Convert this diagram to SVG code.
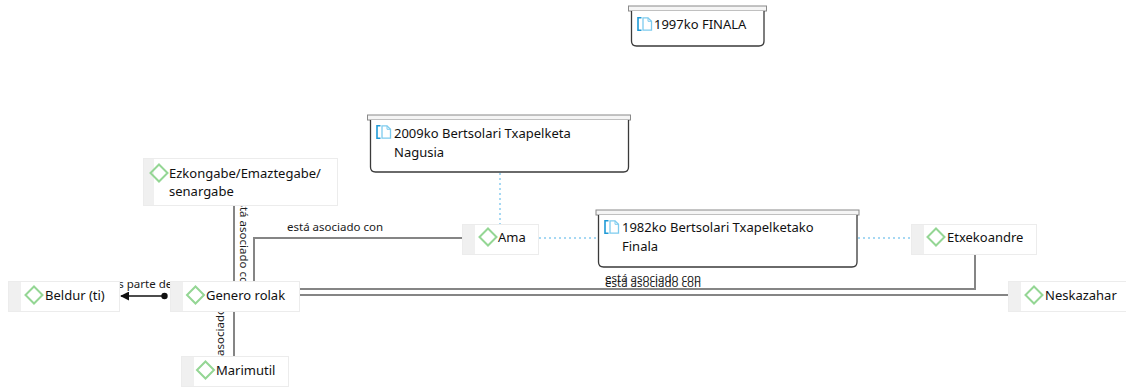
<svg xmlns="http://www.w3.org/2000/svg" width="1126" height="387" viewBox="0 0 1126 387">
<style>
.bg{fill:#ffffff}
.nrect{fill:#ffffff;stroke:#ececec;stroke-width:1}
.strip{fill:#f0f0f0}
.dia{fill:none;stroke:#94d694;stroke-width:2}
.ntxt{font-family:"Noto Sans","Open Sans",sans-serif;font-size:13px;fill:#111111}
.lbl{font-family:"Noto Sans","Open Sans",sans-serif;font-size:11.5px;fill:#1a1a1a}
.conn{fill:none;stroke:#858585;stroke-width:2}
.dot{fill:none;stroke:#a6d8f3;stroke-width:2;stroke-dasharray:2 3}
.docbar{fill:#f5f5f5;stroke:#8a8a8a;stroke-width:1}
.docbox{fill:#ffffff;stroke:#3a3a3a;stroke-width:1.3}
</style>
<defs>
<symbol id="docicon" viewBox="0 0 16 14" overflow="visible">
<path d="M4.5 0.8 H1 V13.2 H4.5" fill="none" stroke="#1f9ad6" stroke-width="1.6"/>
<path d="M6 0.8 H11 L14.5 4.3 V13.2 H6 Z" fill="none" stroke="#7dcbee" stroke-width="1.3"/>
<path d="M11 0.8 V4.3 H14.5" fill="none" stroke="#7dcbee" stroke-width="1"/>
</symbol>
<marker id="arrow" viewBox="0 0 10 10" refX="9" refY="5" markerWidth="9" markerHeight="9" markerUnits="userSpaceOnUse" orient="auto">
<path d="M0 0 L10 5 L0 10 Z" fill="#111111"/>
</marker>
</defs>
<rect class="bg" x="0" y="0" width="1126" height="387"/>

<g id="connectors">
<path class="dot" d="M500 173 V224"/>
<path class="dot" d="M539 238 H597"/>
<path class="dot" d="M858 238 H911"/>
<path class="conn" d="M462 238 H254 V281"/>
<path class="conn" d="M234 205 V281"/>
<path class="conn" d="M234 311 V356"/>
<path class="conn" d="M299 289 H975 V254"/>
<path class="conn" d="M299 295 H1008"/>
<path d="M164 296 H121" fill="none" stroke="#111111" stroke-width="1.6" marker-end="url(#arrow)"/>
<circle cx="164.5" cy="296" r="3.2" fill="#111111"/>
<text class="lbl" x="287" y="231">está asociado con</text>
<text class="lbl" transform="translate(239.5,243) rotate(90)" text-anchor="middle">está asociado con</text>
<text class="lbl" transform="translate(224,333.5) rotate(-90)" text-anchor="middle">está asociado con</text>
<text class="lbl" x="605" y="282">está asociado con</text>
<text class="lbl" x="605" y="286.5">está asociado con</text>
<text class="lbl" x="142" y="288" text-anchor="middle">es parte de</text>
</g>

<g id="doc1997">
<rect class="docbar" x="628.5" y="6" width="138" height="5"/>
<path class="docbox" d="M631.5 11 V41 Q631.5 46 636.5 46 H759 Q764 46 764 41 V11"/>
<use href="#docicon" x="637" y="17" width="16" height="14"/>
<text class="ntxt" x="654" y="29">1997ko FINALA</text>
</g>

<g id="doc2009">
<rect class="docbar" x="367.5" y="115" width="263" height="5"/>
<path class="docbox" d="M370.5 120 V167 Q370.5 172 375.5 172 H623.5 Q628.5 172 628.5 167 V120"/>
<use href="#docicon" x="376" y="125" width="16" height="14"/>
<text class="ntxt" x="394" y="138">2009ko Bertsolari Txapelketa</text>
<text class="ntxt" x="394" y="157">Nagusia</text>
</g>

<g id="doc1982">
<rect class="docbar" x="596" y="210" width="263" height="5"/>
<path class="docbox" d="M598.5 215 V262 Q598.5 267 603.5 267 H852 Q857 267 857 262 V215"/>
<use href="#docicon" x="604" y="220" width="16" height="14"/>
<text class="ntxt" x="622" y="232">1982ko Bertsolari Txapelketako</text>
<text class="ntxt" x="622" y="251">Finala</text>
</g>

<g id="ezkongabe">
<rect class="nrect" x="143.5" y="158.5" width="194" height="47"/>
<rect class="strip" x="144" y="159" width="10" height="46"/>
<path class="dia" d="M159 164.5 L167.5 173 L159 181.5 L150.5 173 Z"/>
<text class="ntxt" x="169" y="177.5">Ezkongabe/Emaztegabe/</text>
<text class="ntxt" x="169" y="195.5">senargabe</text>
</g>

<g id="ama">
<rect class="nrect" x="462.5" y="224.5" width="76" height="30"/>
<rect class="strip" x="463" y="225" width="12" height="29"/>
<path class="dia" d="M488 228.5 L496.5 237 L488 245.5 L479.5 237 Z"/>
<text class="ntxt" x="498" y="241.5">Ama</text>
</g>

<g id="etxekoandre">
<rect class="nrect" x="911.5" y="224.5" width="125" height="30"/>
<rect class="strip" x="912" y="225" width="12" height="29"/>
<path class="dia" d="M936 228.5 L944.5 237 L936 245.5 L927.5 237 Z"/>
<text class="ntxt" x="947" y="241.5">Etxekoandre</text>
</g>

<g id="neskazahar">
<rect class="nrect" x="1008.5" y="281.5" width="120" height="30"/>
<rect class="strip" x="1009" y="282" width="12" height="29"/>
<path class="dia" d="M1034 286.5 L1042.5 295 L1034 303.5 L1025.5 295 Z"/>
<text class="ntxt" x="1045" y="299.5">Neskazahar</text>
</g>

<g id="genero">
<rect class="nrect" x="170.5" y="281.5" width="129" height="30"/>
<rect class="strip" x="171" y="282" width="12" height="29"/>
<path class="dia" d="M195.5 286.5 L204 295 L195.5 303.5 L187 295 Z"/>
<text class="ntxt" x="206" y="299.5">Genero rolak</text>
</g>

<g id="beldur">
<rect class="nrect" x="8.5" y="281.5" width="111" height="30"/>
<rect class="strip" x="9" y="282" width="12" height="29"/>
<path class="dia" d="M34 286.5 L42.5 295 L34 303.5 L25.5 295 Z"/>
<text class="ntxt" x="45" y="299.5">Beldur (ti)</text>
</g>

<g id="marimutil">
<rect class="nrect" x="181.5" y="356.5" width="107" height="30"/>
<rect class="strip" x="182" y="357" width="12" height="29"/>
<path class="dia" d="M205.5 361.5 L214 370 L205.5 378.5 L197 370 Z"/>
<text class="ntxt" x="216" y="374.5">Marimutil</text>
</g>
</svg>
